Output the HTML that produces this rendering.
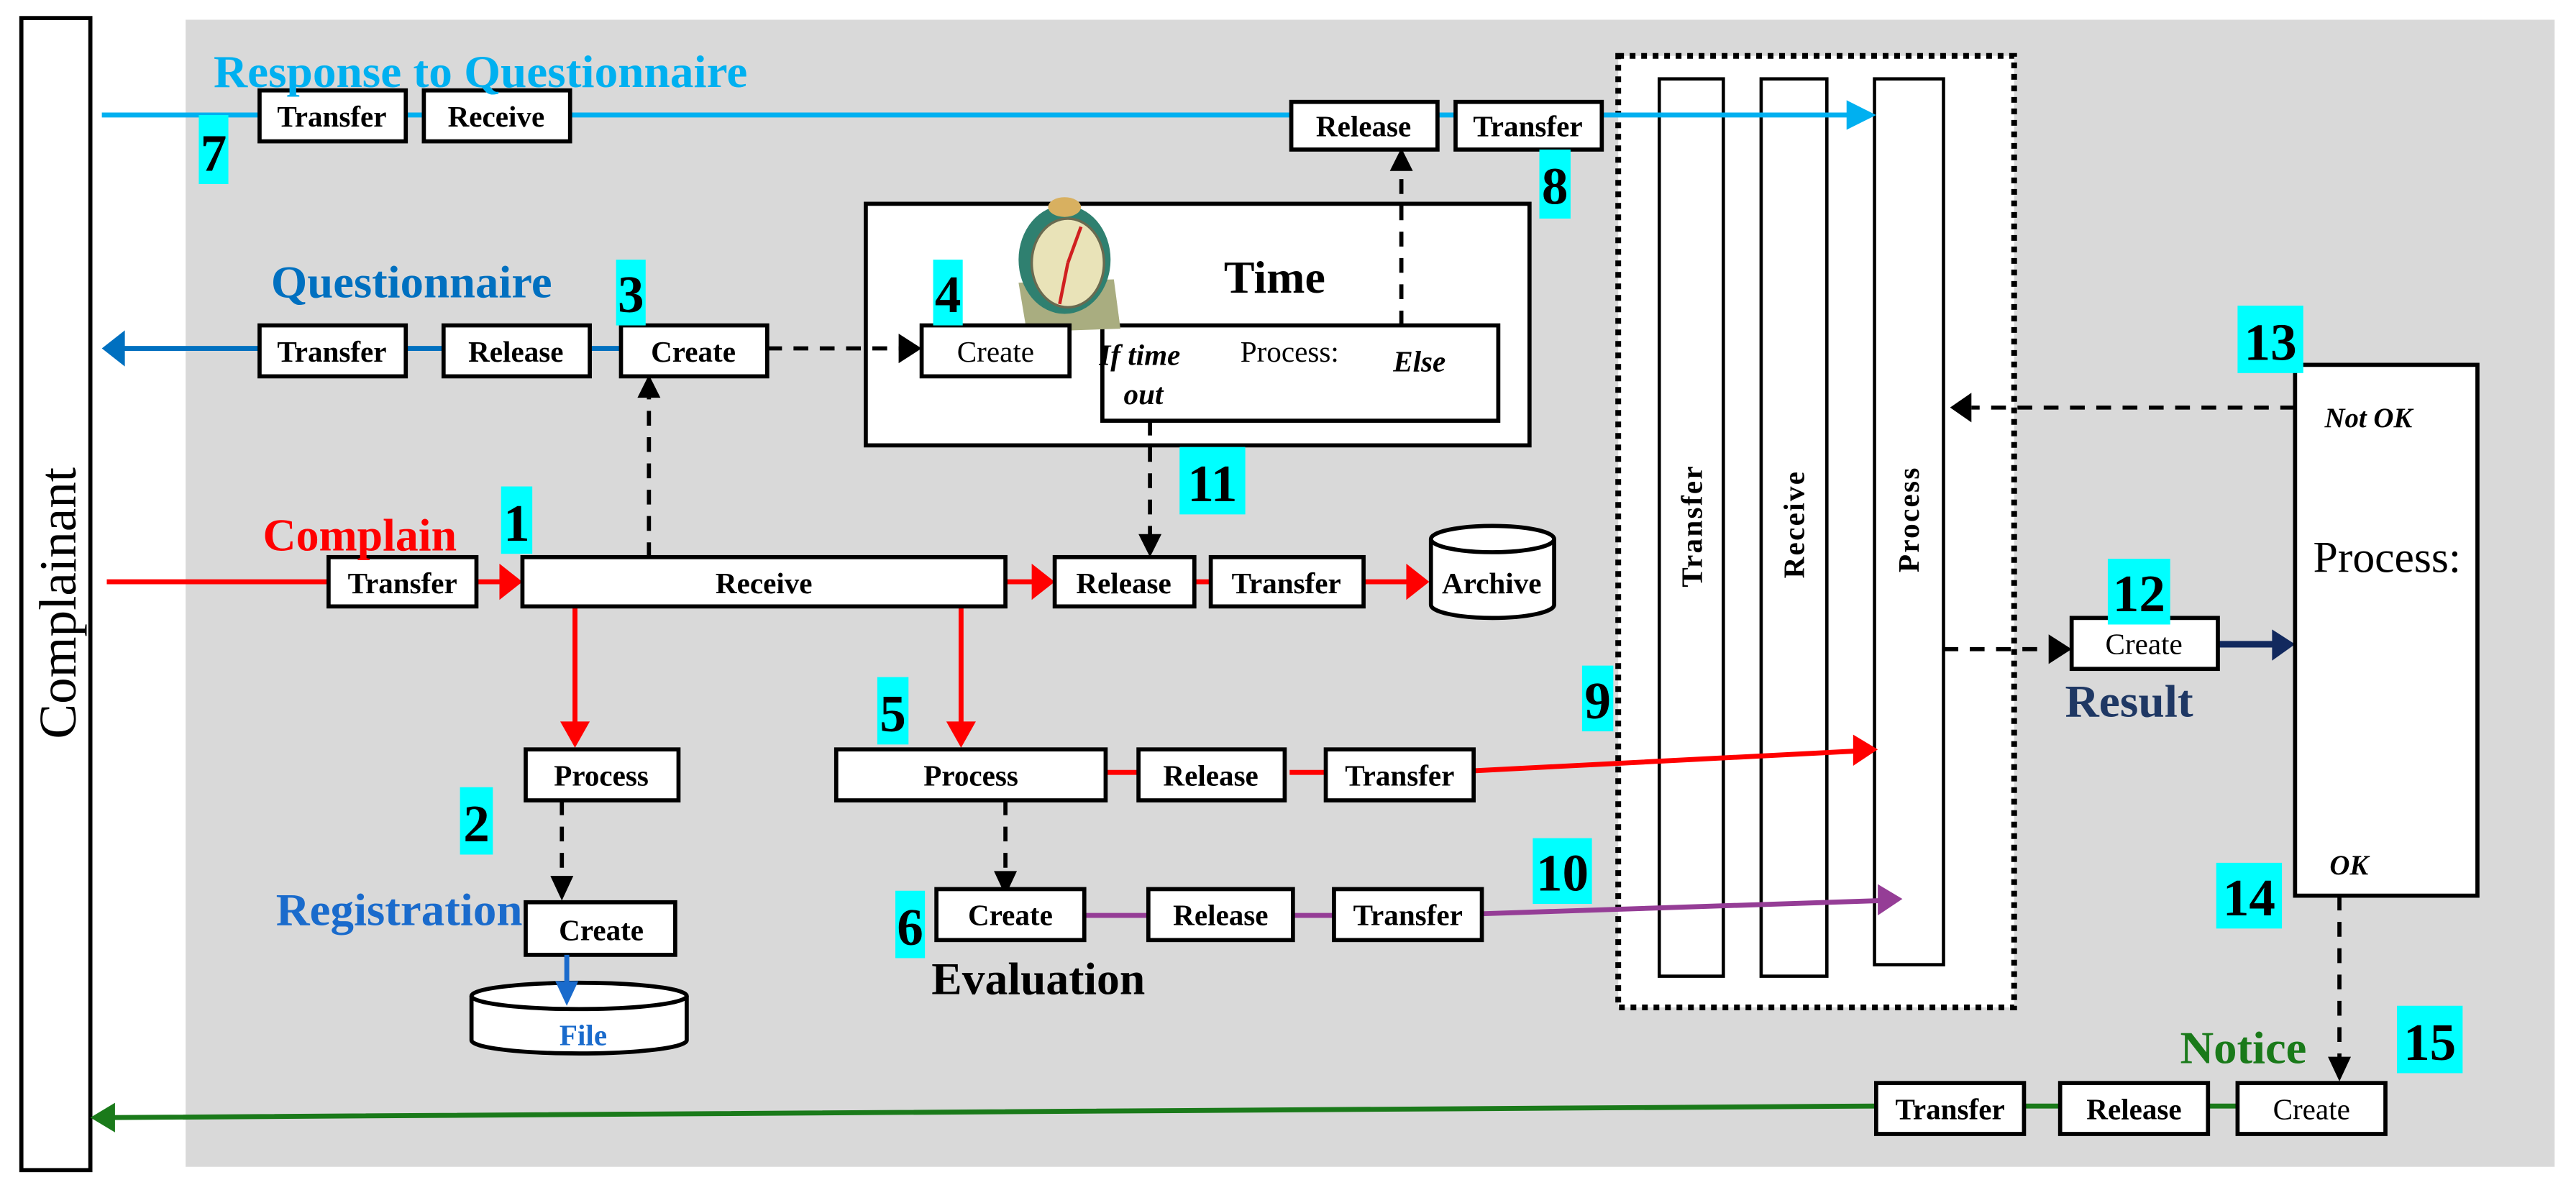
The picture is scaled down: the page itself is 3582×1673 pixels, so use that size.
<!DOCTYPE html>
<html><head><meta charset="utf-8"><style>
html,body{margin:0;padding:0;background:#fff;}
svg{display:block;}
text{font-family:"Liberation Serif",serif;}
.b{font-weight:bold;}
.n{font-family:"Liberation Sans",sans-serif;font-weight:bold;font-size:32px;}
</style></head><body>
<svg width="3582" height="1673" viewBox="0 0 1568 732" preserveAspectRatio="none" xmlns="http://www.w3.org/2000/svg">
<rect x="113" y="12" width="1442" height="698" fill="#d9d9d9"/>
<!-- Complainant -->
<rect x="13" y="11" width="42" height="701" fill="#fff" stroke="#000" stroke-width="2.5"/>
<text x="0" y="0" transform="translate(46,367) rotate(-90)" text-anchor="middle" font-size="32">Complainant</text>

<!-- dotted box -->
<rect x="985" y="34" width="241" height="579" fill="#fff" stroke="#000" stroke-width="3.5" stroke-dasharray="3.5 3.5"/>
<rect x="1010" y="48" width="39" height="546" fill="#fff" stroke="#000" stroke-width="2"/>
<rect x="1072" y="48" width="40" height="546" fill="#fff" stroke="#000" stroke-width="2"/>
<rect x="1141" y="48" width="42" height="539" fill="#fff" stroke="#000" stroke-width="2"/>
<text transform="translate(1036,320) rotate(-90)" text-anchor="middle" class="b" font-size="18" letter-spacing="1">Transfer</text>
<text transform="translate(1098,319) rotate(-90)" text-anchor="middle" class="b" font-size="18" letter-spacing="1">Receive</text>
<text transform="translate(1168,316) rotate(-90)" text-anchor="middle" class="b" font-size="18" letter-spacing="1">Process</text>

<!-- Time box -->
<rect x="527" y="124" width="404" height="147" fill="#fff" stroke="#000" stroke-width="2.5"/>
<rect x="671" y="198" width="241" height="58" fill="#fff" stroke="#000" stroke-width="2.5"/>
<!-- clock -->
<polygon points="620,172 678,170 682,200 625,202" fill="#a9ad80"/>
<ellipse cx="648" cy="158" rx="28" ry="33" fill="#2f8070"/>
<ellipse cx="650" cy="160" rx="22" ry="27" fill="#e9e3b8" stroke="#6a6a50" stroke-width="1.5"/>
<line x1="650" y1="160" x2="658" y2="138" stroke="#d02020" stroke-width="2"/>
<line x1="650" y1="160" x2="645" y2="185" stroke="#d02020" stroke-width="2"/>
<ellipse cx="648" cy="126" rx="10" ry="6" fill="#d8b060"/>
<text x="745" y="178" class="b" font-size="28">Time</text>
<text x="669" y="222" class="b" font-style="italic" font-size="18">If time</text>
<text x="684" y="246" class="b" font-style="italic" font-size="18">out</text>
<text x="755" y="220" font-size="18">Process:</text>
<text x="848" y="226" class="b" font-style="italic" font-size="18">Else</text>

<g fill="none" stroke-width="3">
<path d="M62 70H158M247 70H258M347 70H786M875 70H886M975 70H1128" stroke="#00b0f0"/>
<path d="M75 212H158M247 212H270M359 212H378" stroke="#0070c0"/>
<path d="M65 354H200M290 354H306M612 354H630M727 354H737M830 354H858M350 369V442M585 369V442" stroke="#ff0000"/>
<path d="M673 470H693M785 470H807M897 469L1130 457" stroke="#ff0000"/>
<path d="M660 557H699M787 557H812M902 556L1145 548" stroke="#953d96"/>
<path d="M1350 392H1385" stroke="#12295e" stroke-width="4"/>
<path d="M1142 673L68 680M1232 673H1254M1344 673H1362" stroke="#1a7a1a"/>
</g>
<g fill="none" stroke="#000" stroke-width="2.5" stroke-dasharray="9 7">
<path d="M467 212H548"/>
<path d="M395 339V242"/>
<path d="M700 256V326"/>
<path d="M853 198V100"/>
<path d="M342 487V535"/>
<path d="M612 487V532"/>
<path d="M1183 395H1245"/>
<path d="M1397 248H1200"/>
<path d="M1424 545V645"/>
</g>
<polygon points="1142,70 1124,61 1124,79" fill="#00b0f0"/>
<polygon points="62,212 76,201 76,223" fill="#0070c0"/>
<polygon points="318,354 304,343 304,365" fill="#ff0000"/>
<polygon points="642,354 628,343 628,365" fill="#ff0000"/>
<polygon points="870,354 856,343 856,365" fill="#ff0000"/>
<polygon points="350,455 341,439 359,439" fill="#ff0000"/>
<polygon points="585,455 576,439 594,439" fill="#ff0000"/>
<polygon points="1143,456 1128,447 1128,466" fill="#ff0000"/>
<polygon points="1158,547 1143,538 1143,557" fill="#953d96"/>
<polygon points="1397,392 1383,383 1383,402" fill="#12295e"/>
<polygon points="55,680 70,671 70,689" fill="#1a7a1a"/>
<polygon points="561,212 547,203 547,221" fill="#000"/>
<polygon points="395,228 388,242 402,242" fill="#000"/>
<polygon points="700,339 693,325 707,325" fill="#000"/>
<polygon points="853,90 846,104 860,104" fill="#000"/>
<polygon points="342,548 335,533 349,533" fill="#000"/>
<polygon points="612,545 605,530 619,530" fill="#000"/>
<polygon points="1261,395 1247,386 1247,404" fill="#000"/>
<polygon points="1187,248 1200,239 1200,257" fill="#000"/>
<polygon points="1424,658 1417,643 1431,643" fill="#000"/>

<g fill="#fff" stroke="#000" stroke-width="2.5">
<rect x="158" y="55" width="89" height="31"/>
<rect x="258" y="55" width="89" height="31"/>
<rect x="786" y="62" width="89" height="29"/>
<rect x="886" y="62" width="89" height="29"/>
<rect x="158" y="198" width="89" height="31"/>
<rect x="270" y="198" width="89" height="31"/>
<rect x="378" y="198" width="89" height="31"/>
<rect x="561" y="198" width="90" height="31"/>
<rect x="200" y="339" width="90" height="30"/>
<rect x="318" y="339" width="294" height="30"/>
<rect x="642" y="339" width="85" height="30"/>
<rect x="737" y="339" width="93" height="30"/>
<rect x="320" y="456" width="93" height="31"/>
<rect x="509" y="456" width="164" height="31"/>
<rect x="693" y="456" width="89" height="31"/>
<rect x="807" y="456" width="90" height="31"/>
<rect x="320" y="549" width="91" height="32"/>
<rect x="570" y="541" width="90" height="31"/>
<rect x="699" y="541" width="88" height="31"/>
<rect x="812" y="541" width="90" height="31"/>
<rect x="1261" y="376" width="89" height="31"/>
<rect x="1397" y="222" width="111" height="323"/>
<rect x="1142" y="659" width="90" height="31"/>
<rect x="1254" y="659" width="90" height="31"/>
<rect x="1362" y="659" width="90" height="31"/>
<path d="M871 328V368A37.5 8 0 0 0 946 368V328"/>
<ellipse cx="908.5" cy="328" rx="37.5" ry="8"/>
<path d="M287 606V633A65.5 8 0 0 0 418 633V606"/>
<ellipse cx="352.5" cy="606" rx="65.5" ry="8"/>
</g>
<polygon points="345,612 338,597 352,597" fill="#1a6bcc"/>
<path d="M345 581V600" stroke="#1a6bcc" stroke-width="3"/>

<g text-anchor="middle" font-size="18" class="b">
<text x="202" y="77">Transfer</text>
<text x="302" y="77">Receive</text>
<text x="830" y="83">Release</text>
<text x="930" y="83">Transfer</text>
<text x="202" y="220">Transfer</text>
<text x="314" y="220">Release</text>
<text x="422" y="220">Create</text>
<text x="245" y="361">Transfer</text>
<text x="465" y="361">Receive</text>
<text x="684" y="361">Release</text>
<text x="783" y="361">Transfer</text>
<text x="908" y="361">Archive</text>
<text x="366" y="478">Process</text>
<text x="591" y="478">Process</text>
<text x="737" y="478">Release</text>
<text x="852" y="478">Transfer</text>
<text x="366" y="572">Create</text>
<text x="615" y="563">Create</text>
<text x="743" y="563">Release</text>
<text x="857" y="563">Transfer</text>
<text x="1187" y="681">Transfer</text>
<text x="1299" y="681">Release</text>
<text x="355" y="636" fill="#1a6bcc">File</text>
</g>
<g text-anchor="middle" font-size="18">
<text x="606" y="220">Create</text>
<text x="1305" y="398">Create</text>
<text x="1407" y="681">Create</text>
</g>
<text x="1408" y="348" font-size="27">Process:</text>
<text x="1415" y="260" class="b" font-style="italic" font-size="17">Not OK</text>
<text x="1418" y="532" class="b" font-style="italic" font-size="17">OK</text>

<text x="130" y="53" class="b" font-size="28" fill="#00b0f0" textLength="325" lengthAdjust="spacingAndGlyphs">Response to Questionnaire</text>
<text x="165" y="181" class="b" font-size="28" fill="#0070c0" textLength="171" lengthAdjust="spacingAndGlyphs">Questionnaire</text>
<text x="160" y="335" class="b" font-size="28" fill="#ff0000" textLength="118" lengthAdjust="spacingAndGlyphs">Complain</text>
<text x="168" y="563" class="b" font-size="28" fill="#1a6bcc" textLength="150" lengthAdjust="spacingAndGlyphs">Registration</text>
<text x="567" y="605" class="b" font-size="28" textLength="130" lengthAdjust="spacingAndGlyphs">Evaluation</text>
<text x="1257" y="436" class="b" font-size="28" fill="#1f3864" textLength="78" lengthAdjust="spacingAndGlyphs">Result</text>
<text x="1327" y="647" class="b" font-size="28" fill="#1a7a1a" textLength="77" lengthAdjust="spacingAndGlyphs">Notice</text>

<g fill="#00ffff">
<rect x="121" y="70" width="18" height="42"/>
<rect x="937" y="91" width="19" height="42"/>
<rect x="375" y="158" width="18" height="40"/>
<rect x="568" y="158" width="18" height="40"/>
<rect x="305" y="296" width="19" height="41"/>
<rect x="718" y="272" width="40" height="41"/>
<rect x="280" y="479" width="20" height="41"/>
<rect x="534" y="412" width="19" height="41"/>
<rect x="545" y="542" width="18" height="41"/>
<rect x="963" y="405" width="19" height="40"/>
<rect x="933" y="510" width="36" height="40"/>
<rect x="1283" y="340" width="38" height="40"/>
<rect x="1362" y="186" width="40" height="41"/>
<rect x="1349" y="525" width="40" height="40"/>
<rect x="1459" y="612" width="40" height="41"/>
</g>
<g class="n" text-anchor="middle">
<text x="130" y="104">7</text>
<text x="946.5" y="124">8</text>
<text x="384" y="190">3</text>
<text x="577" y="190">4</text>
<text x="314.5" y="329">1</text>
<text x="738" y="305">11</text>
<text x="290" y="512">2</text>
<text x="543.5" y="445">5</text>
<text x="554" y="575">6</text>
<text x="972.5" y="437">9</text>
<text x="951" y="542">10</text>
<text x="1302" y="372">12</text>
<text x="1382" y="219">13</text>
<text x="1369" y="557">14</text>
<text x="1479" y="645">15</text>
</g>
</svg>
</body></html>
